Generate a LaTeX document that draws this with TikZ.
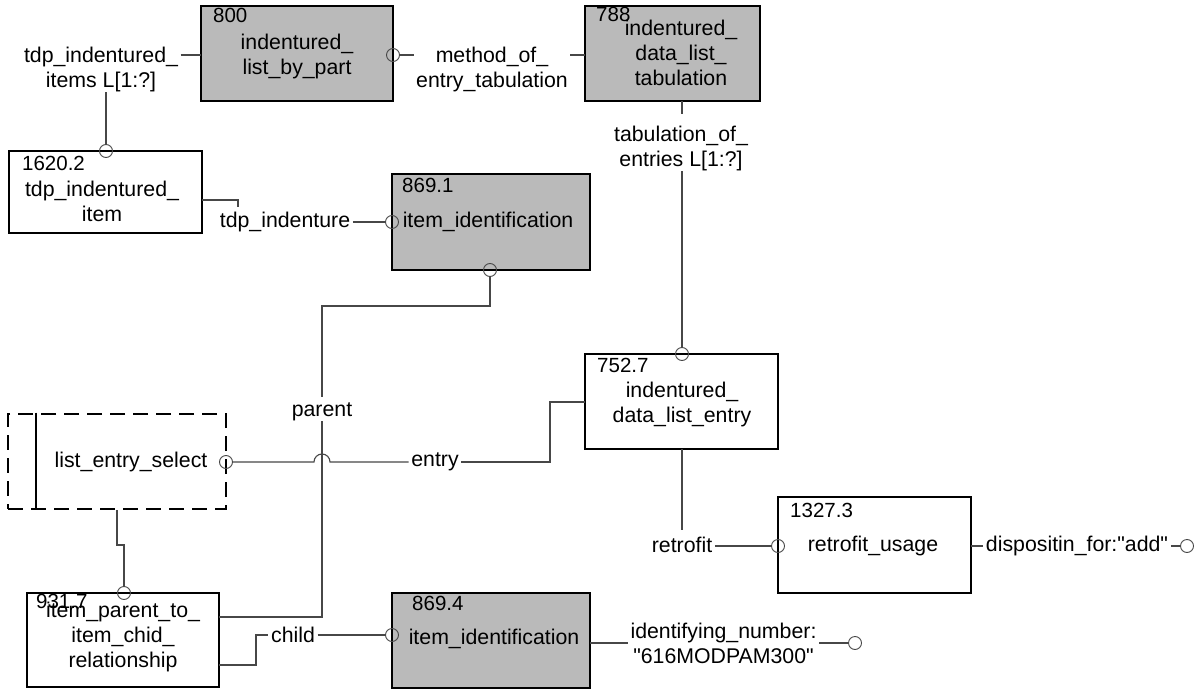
\documentclass[tikz,border=0pt]{standalone}
\usepackage{fontspec}
\setmainfont{Liberation Sans}
\newfontfamily\plainq{Liberation Sans}
\newcommand{\sq}{{\plainq"}}
\begin{document}
\begin{tikzpicture}[x=1pt,y=-1pt,
  entity/.style={draw=black, line width=2.6pt, inner sep=0pt, outer sep=0pt},
  shaded/.style={entity, fill=black!27},
  selbox/.style={draw=black, line width=2.6pt, dash pattern=on 15pt off 8pt, inner sep=0pt},
  conn/.style={draw=black!72, line width=1.1pt},
  txt/.style={font=\fontsize{21.3}{25}\selectfont, inner sep=0pt, align=center},
  lbl/.style={txt, inner xsep=2.5pt},
  num/.style={font=\fontsize{20.5}{24}\selectfont, inner sep=0pt, anchor=west},
  ring/.style={circle, draw=black!72, line width=0.9pt, minimum size=13pt, inner sep=0pt},
]
\useasboundingbox (0,0) rectangle (1204,690);

% ---------- entity boxes ----------
\node[shaded, minimum width=192pt, minimum height=95pt] (b800) at (297,53.5) {};
\node[shaded, minimum width=175pt, minimum height=95pt] (b788) at (672.5,53.5) {};
\node[entity, minimum width=193pt, minimum height=82pt] (b1620) at (105.5,192) {};
\node[shaded, minimum width=198pt, minimum height=96pt] (b8691) at (491,222) {};
\node[selbox, minimum width=218pt, minimum height=95pt] (les) at (117,461.5) {};
\node[entity, minimum width=193pt, minimum height=95pt] (b7527) at (681.5,401.5) {};
\node[entity, minimum width=193pt, minimum height=96pt] (b1327) at (874.5,545) {};
\node[entity, minimum width=192pt, minimum height=94pt] (b9317) at (123,640) {};
\node[shaded, minimum width=198pt, minimum height=95pt] (b8694) at (491,640.5) {};

\coordinate (lesin) at (36,0);
\draw[line width=2.4pt] (les.north -| lesin) -- (les.south -| lesin);

% ---------- numbers ----------
\node[num] (n800) at (213,15) {800};
\node[num] (n788) at (596,14) {788};
\node[num] (n1620) at (22,163) {1620.2};
\node[num] (n8691) at (402,185) {869.1};
\node[num] (n7527) at (597,365) {752.7};
\node[num] (n1327) at (790,510) {1327.3};
\node[num] (n9317) at (36,601) {931.7};
\node[num] (n8694) at (412,603) {869.4};

% ---------- box names ----------
\node[txt] (t800) at (297,56.5) {indentured\_\\list\_by\_part};
\node[txt] (t788) at (681,53) {indentured\_\\data\_list\_\\tabulation};
\node[txt] (t1620) at (102,201.5) {tdp\_indentured\_\\item};
\node[txt] (t8691) at (488,222) {item\_identification};
\node[txt] (tles) at (131,462) {list\_entry\_select};
\node[txt] (t7527) at (682,404) {indentured\_\\data\_list\_entry};
\node[txt] (t1327) at (873,546) {retrofit\_usage};
\node[txt] (t9317) at (123,636.5) {item\_parent\_to\_\\item\_chid\_\\relationship};
\node[txt] (t8694) at (494,639) {item\_identification};

% ---------- connector labels ----------
\node[lbl] (ltdp) at (101,69.5) {tdp\_indentured\_\\items L[1:?]};
\node[lbl] (lmeth) at (492,69.5) {method\_of\_\\entry\_tabulation};
\node[lbl] (ltab) at (681,148.5) {tabulation\_of\_\\entries L[1:?]};
\node[lbl] (ltdpi) at (285,222) {tdp\_indenture};
\node[lbl] (lparent) at (322,412) {parent};
\node[lbl] (lentry) at (435,462) {entry};
\node[lbl] (lchild) at (293,635) {child};
\node[lbl] (lretro) at (682,545) {retrofit};
\node[lbl] (ldisp) at (1077,546) {dispositin\_for:\sq add\sq};
\node[lbl] (lident) at (723.5,643) {identifying\_number:\\\sq 616MODPAM300\sq};

% ---------- rings ----------
\node[ring] (r800) at (393,55) {};
\node[ring] (r1620) at (106,151) {};
\node[ring] (r7527) at (682,354) {};
\node[ring] (r8691a) at (392,222) {};
\node[ring] (r8691b) at (490,270) {};
\node[ring] (rles) at (226,462) {};
\node[ring] (r9317) at (124,593) {};
\node[ring] (r8694) at (392,635) {};
\node[ring] (r1327) at (778,546) {};
\node[ring] (rdisp) at (1187,546) {};
\node[ring] (rident) at (855,643) {};

% ---------- connectors ----------
\draw[conn] (ltdp.east |- r800) -- (b800.west |- r800);
\draw[conn] (ltdp.south -| r1620) -- (r1620);
\draw[conn] (r800) -- (lmeth.west |- r800);
\draw[conn] (lmeth.east |- r800) -- (b788.west |- r800);
\draw[conn, shorten >=12pt] (b788.south -| r7527) -- (ltab.north -| r7527);
\draw[conn] (ltab.south -| r7527) -- (r7527);

\coordinate (k0) at (238,200);
\coordinate (k1) at (238,207);
\draw[conn] (b1620.east |- k0) -- (k0) -- (k1);
\draw[conn] (ltdpi.east) -- (r8691a);

\coordinate (p2) at (322,306);
\coordinate (p3) at (322,617);
\draw[conn, shorten >=6pt] (r8691b.south) |- (p2) -- (lparent.north);
\draw[conn] (lparent.south) -- (p3) -- (p3 -| b9317.east);

\coordinate (h1) at (314,462);
\coordinate (e1) at (550,402);
\draw[conn] (rles) -- (h1) arc[start angle=180, end angle=0, radius=8pt] -- (lentry.west);
\draw[conn] (lentry.east) -| (e1) -- (b7527.west |- e1);

\coordinate (d1) at (117,545);
\coordinate (d2) at (124,545);
\draw[conn] (les.south -| d1) -- (d1) -- (d2) -- (r9317);

\coordinate (ch1) at (256,665);
\draw[conn] (b9317.east |- ch1) -- (ch1) |- (lchild.west);
\draw[conn] (lchild.east) -- (r8694);

\draw[conn, shorten >=7pt] (b7527.south -| lretro) -- (lretro.north);
\draw[conn] (lretro.east |- r1327) -- (r1327);
\draw[conn] (b1327.east |- ldisp) -- (ldisp.west);
\draw[conn] (ldisp.east) -- (rdisp);
\draw[conn] (b8694.east |- lident) -- (lident.west);
\draw[conn] (lident.east) -- (rident);
\end{tikzpicture}
\end{document}
